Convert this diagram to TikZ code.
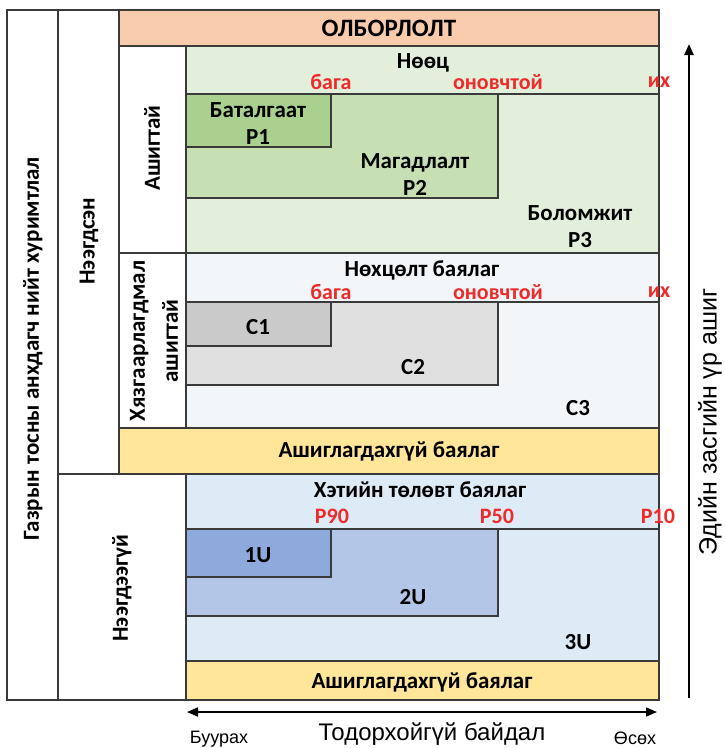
\documentclass[tikz,border=0pt]{standalone}
\usepackage{fontspec}
\setmainfont{Carlito}
\newfontfamily\axisfont{Liberation Sans}
\usetikzlibrary{arrows.meta}
\definecolor{olbor}{HTML}{F8CBAD}
\definecolor{grLight}{HTML}{E2EFDA}
\definecolor{grMid}{HTML}{C6E0B4}
\definecolor{grDark}{HTML}{A9D08E}
\definecolor{cLight}{HTML}{F3F6F9}
\definecolor{cMid}{HTML}{E0E0E0}
\definecolor{cDark}{HTML}{CACACA}
\definecolor{yel}{HTML}{FFE699}
\definecolor{blLight}{HTML}{DDEBF7}
\definecolor{blMid}{HTML}{B4C6E7}
\definecolor{blDark}{HTML}{8EA9DB}
\definecolor{redtxt}{HTML}{EE2A2A}
\definecolor{edge}{HTML}{3A3A3A}

\begin{document}
\begin{tikzpicture}[x=1pt,y=-1pt,every node/.style={inner sep=0pt,align=center}]
	
	\tikzstyle{cell}=[draw=edge,line width=1.3pt]
	\tikzstyle{green cell}=[cell,fill=grLight]
	\tikzstyle{blue cell}=[cell,fill=blLight]
	\tikzstyle{grey cell}=[cell,fill=cLight]
	\tikzstyle{bold text}=[font=\fontsize{23}{27}\selectfont\bfseries]
	\tikzstyle{red text}=[font=\fontsize{22}{24}\selectfont\bfseries,text=redtxt]
	\tikzstyle{axis text}=[font=\fontsize{24}{28}\selectfont\axisfont]
	\tikzstyle{small axis text}=[font=\fontsize{18}{20}\selectfont\axisfont]
	\tikzstyle{axis arrow}=[-{Triangle[length=11pt,width=9pt]},line width=2.4pt]
	
	\useasboundingbox (0,0) rectangle (724,748);
	
	% left columns
	\draw[cell] (7,10) rectangle (58,700);
	\draw[cell] (58,10) rectangle (119,474);
	\draw[cell] (58,474) rectangle (186,700);
	\draw[cell,fill=olbor] (119,10) rectangle (659,46);
	\draw[cell] (119,46) rectangle (186,253);
	\draw[cell] (119,253) rectangle (186,428);
	
	% reserves
	\draw[green cell] (186,46) rectangle (659,253);
	\draw[green cell] (186,94) rectangle (659,253);
	\draw[cell,fill=grMid] (186,94) rectangle (498,198);
	\draw[cell,fill=grDark] (186,94) rectangle (331,147);
	
	% contingent
	\draw[grey cell] (186,253) rectangle (659,428);
	\draw[grey cell] (186,302) rectangle (659,428);
	\draw[cell,fill=cMid] (186,302) rectangle (498,385);
	\draw[cell,fill=cDark] (186,302) rectangle (331,346);
	\draw[cell,fill=yel] (119,428) rectangle (659,474);
	
	% prospective
	\draw[blue cell] (186,474) rectangle (659,661);
	\draw[blue cell] (186,529) rectangle (659,661);
	\draw[cell,fill=blMid] (186,529) rectangle (498,616);
	\draw[cell,fill=blDark] (186,529) rectangle (331,577);
	\draw[cell,fill=yel] (186,661) rectangle (659,700);
	
	\node[bold text,rotate=90] (total) at (33,349) {Газрын тосны анхдагч нийт хуримтлал};
	\node[bold text,rotate=90] (found) at (89,241) {Нээгдсэн};
	\node[bold text,rotate=90] (notfound) at (122,588) {Нээгдээгүй};
	\node[bold text,rotate=90] (ashig) at (152,148) {Ашигтай};
	\node[bold text,rotate=90,font=\fontsize{23}{33}\selectfont\bfseries] (limited) at (154,341) {Хязгаарлагдмал\\ашигтай};
	\node[bold text,font=\fontsize{25}{28}\selectfont\bfseries] (olborlolt) at (389,28) {ОЛБОРЛОЛТ};
	
	\node[bold text] (noots) at (423,63) {Нөөц};
	\node[red text] (pLow) at (331,82) {бага};
	\node[red text] (pMid) at (498,82) {оновчтой};
	\node[red text] (pHigh) at (659,82) {их};
	\node[bold text] (p1) at (258,124) {Баталгаат\\P1};
	\node[bold text] (p2) at (415,175) {Магадлалт\\P2};
	\node[bold text] (p3) at (580,227) {Боломжит\\P3};
	
	\node[bold text] (nokhtsol) at (422,270) {Нөхцөлт баялаг};
	\node[red text] (cLow) at (331,292) {бага};
	\node[red text] (cMidTxt) at (498,292) {оновчтой};
	\node[red text] (cHigh) at (659,292) {их};
	\node[bold text] (c1) at (258,327) {C1};
	\node[bold text] (c2) at (413,367) {C2};
	\node[bold text] (c3) at (578,408) {C3};
	\node[bold text] (unused1) at (389,451) {Ашиглагдахгүй баялаг};
	
	\node[bold text] (prosp) at (420,490) {Хэтийн төлөвт баялаг};
	\node[red text] (u90) at (332,516) {P90};
	\node[red text] (u50) at (497,516) {P50};
	\node[red text] (u10) at (658,516) {P10};
	\node[bold text] (u1) at (258,555) {1U};
	\node[bold text] (u2) at (413,597) {2U};
	\node[bold text] (u3) at (578,642) {3U};
	\node[bold text] (unused2) at (422,682) {Ашиглагдахгүй баялаг};
	
	% axes
	\coordinate (econBot) at (689,698);
	\coordinate (econTop) at (689,44);
	\draw[axis arrow] (econBot) -- (econTop);
	\node[axis text,font=\fontsize{25}{28}\selectfont\axisfont,rotate=90] (econ) at (710,422) {Эдийн засгийн үр ашиг};
	
	\coordinate (uncLeft) at (187,712);
	\coordinate (uncRight) at (657,712);
	\draw[{Triangle[length=11pt,width=9pt]}-{Triangle[length=11pt,width=9pt]},line width=1.7pt] (uncLeft) -- (uncRight);
	\node[axis text] (unc) at (432,734) {Тодорхойгүй байдал};
	\node[small axis text] (decr) at (219,739) {Буурах};
	\node[small axis text] (incr) at (635,738) {Өсөх};
	
\end{tikzpicture}
\end{document}
